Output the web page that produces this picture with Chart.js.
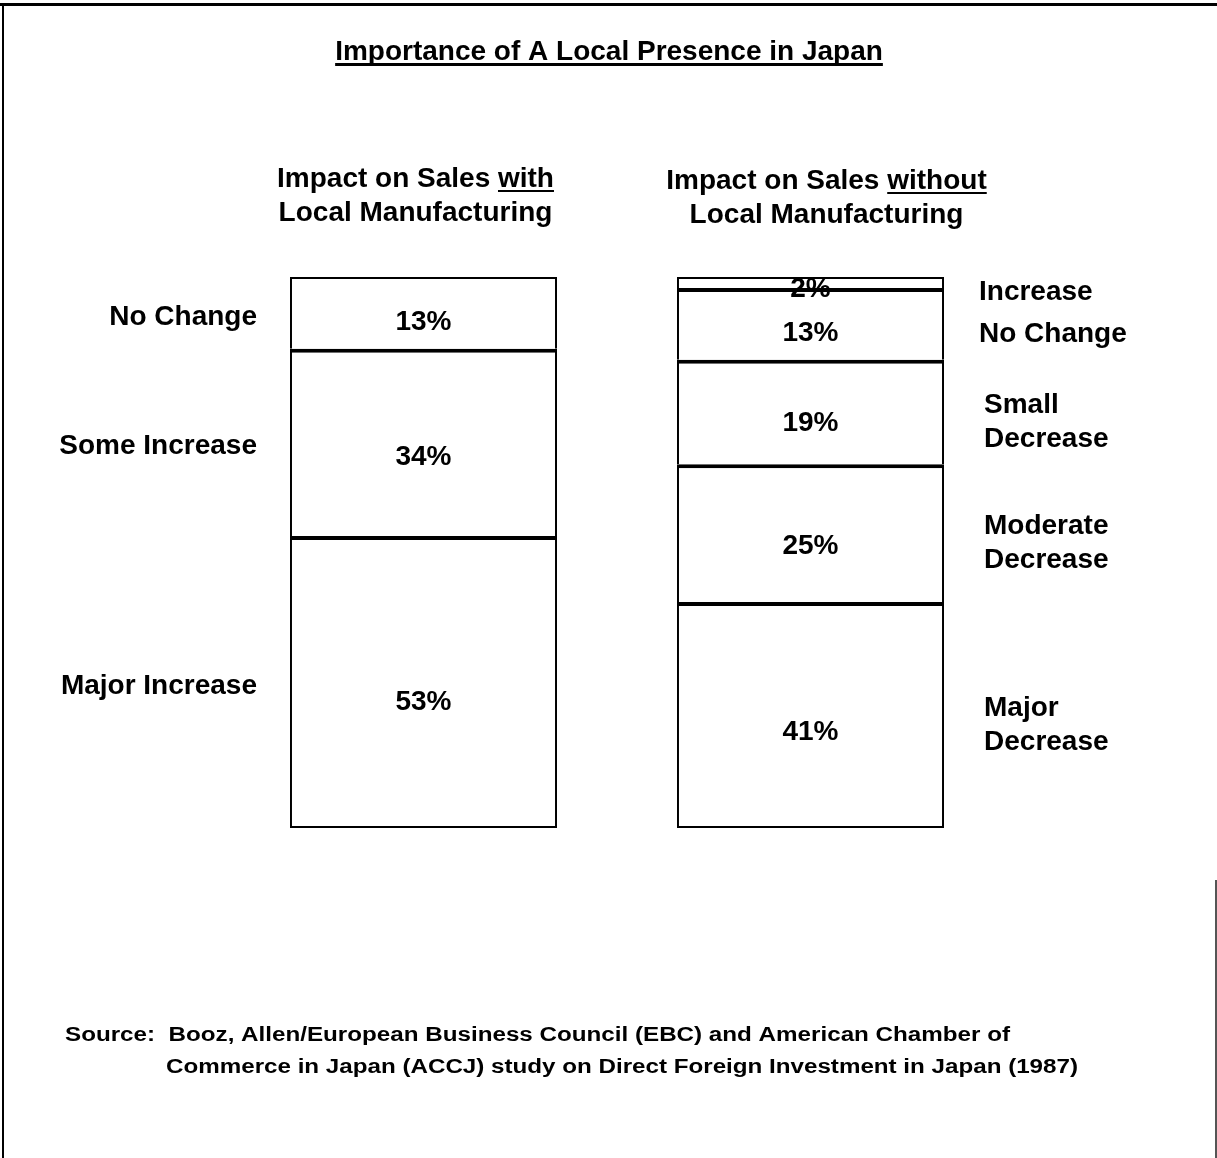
<!DOCTYPE html>
<html>
<head>
<meta charset="utf-8">
<script src="https://cdn.jsdelivr.net/npm/chart.js@4.4.1/dist/chart.umd.min.js"></script>
<style>
  html, body { margin: 0; padding: 0; background: #fff; }
  #wrap { position: relative; width: 1217px; height: 1158px; }
</style>
</head>
<body>
<div id="wrap"><canvas id="chart" width="1217" height="1158"></canvas></div>
<script>
// bars, bottom segment first
const categories = ["with", "without"];
const withLabels = ["Major Increase", "Some Increase", "No Change"];
const withValues = [53, 34, 13];
const withoutLabels = ["Major\nDecrease", "Moderate\nDecrease", "Small\nDecrease", "No Change", "Increase"];
const withoutValues = [41, 25, 19, 13, 2];

const titleText = "Importance of A Local Presence in Japan";
const headerWith = ["Impact on Sales ", "with", "Local Manufacturing"];
const headerWithout = ["Impact on Sales ", "without", "Local Manufacturing"];
const sourceLines = [
  "Source:  Booz, Allen/European Business Council (EBC) and American Chamber of",
  "Commerce in Japan (ACCJ) study on Direct Foreign Investment in Japan (1987)"
];

const FONT = '"Liberation Sans", Arial, Helvetica, sans-serif';

// each segment draws only its own top edge, so a divider is one solid band
function segBorder(c) {
  const i = c.datasetIndex, j = c.dataIndex;
  const all = c.chart.data.datasets;
  const isTop = all.slice(i + 1).every(d => d.data[j] == null);
  return { top: isTop ? 2 : 4, bottom: i === 0 ? 2 : 0, left: 2, right: 2 };
}

const datasets = withoutValues.map((v, i) => ({
  label: "seg" + i,
  data: [i < withValues.length ? withValues[i] : null, v],
  backgroundColor: "#fff",
  borderColor: "#000",
  borderWidth: segBorder,
  borderSkipped: false,
  inflateAmount: 0,
  barPercentage: 0.69,
  categoryPercentage: 1
}));

function underlined(ctx, text, x, y, lw) {
  const w = ctx.measureText(text).width;
  ctx.fillText(text, x, y);
  ctx.fillRect(x, y + 3, w, lw || 2);
  return w;
}

// squeeze/stretch a line so it spans the given width
function fitText(ctx, text, x, y, width) {
  const w = ctx.measureText(text).width;
  ctx.save();
  ctx.translate(x, y);
  ctx.scale(width / w, 1);
  ctx.fillText(text, 0, 0);
  ctx.restore();
}

const decorations = {
  id: "decorations",
  afterDraw(chart) {
    const ctx = chart.ctx;
    ctx.save();
    ctx.fillStyle = "#000";

    // frame
    ctx.fillRect(0, 3, 1217, 3);
    ctx.fillRect(2, 3, 2, 1155);
    ctx.fillStyle = "#555";
    ctx.fillRect(1215, 880, 2, 278);
    ctx.fillStyle = "#000";

    // title
    ctx.font = "bold 28px " + FONT;
    ctx.textBaseline = "alphabetic";
    ctx.textAlign = "left";
    const tw = ctx.measureText(titleText).width;
    underlined(ctx, titleText, 609 - tw / 2, 60, 3);

    // column headers
    const drawHeader = (h, cx, y0) => {
      const w1 = ctx.measureText(h[0]).width;
      const w2 = ctx.measureText(h[1]).width;
      const x0 = cx - (w1 + w2) / 2;
      ctx.fillText(h[0], x0, y0);
      underlined(ctx, h[1], x0 + w1, y0);
      ctx.textAlign = "center";
      ctx.fillText(h[2], cx, y0 + 34);
      ctx.textAlign = "left";
    };
    const meta = chart.getDatasetMeta(0);
    drawHeader(headerWith, meta.data[0].x - 8, 187);
    drawHeader(headerWithout, meta.data[1].x + 16, 189);

    // values inside segments and side labels
    chart.data.datasets.forEach((ds, i) => {
      const m = chart.getDatasetMeta(i);
      m.data.forEach((bar, j) => {
        const v = ds.data[j];
        if (v == null) return;
        const top = bar.y, bottom = bar.base;
        const cy = (top + bottom) / 2;
        const h = bottom - top;
        ctx.font = "bold 28px " + FONT;
        ctx.textAlign = "center";
        ctx.textBaseline = "middle";
        ctx.fillText(v + "%", bar.x, cy + h * 0.05 + 6);
        if (j === 0) {
          ctx.textAlign = "right";
          ctx.fillText(withLabels[i], bar.x - bar.width / 2 - 33, cy + 4);
        } else {
          ctx.textAlign = "left";
          const lines = withoutLabels[i].split("\n");
          const lx = bar.x + bar.width / 2 + (lines.length > 1 ? 40 : 35);
          lines.forEach((ln, k) => {
            ctx.fillText(ln, lx, cy + 10 + (k - (lines.length - 1) / 2) * 34);
          });
        }
      });
    });

    // source note
    ctx.font = "bold 20px " + FONT;
    ctx.textAlign = "left";
    ctx.textBaseline = "alphabetic";
    fitText(ctx, sourceLines[0], 65, 1041, 945);
    fitText(ctx, sourceLines[1], 166, 1073, 912);
    ctx.restore();
  }
};

new Chart(document.getElementById("chart"), {
  type: "bar",
  data: { labels: categories, datasets: datasets },
  options: {
    responsive: false,
    animation: false,
    layout: { padding: { left: 230, right: 213, top: 277, bottom: 330 } },
    plugins: { legend: { display: false }, tooltip: { enabled: false }, title: { display: false } },
    scales: {
      x: { display: false, stacked: true },
      y: { display: false, stacked: true, min: 0, max: 100 }
    }
  },
  plugins: [decorations]
});
</script>
</body>
</html>
